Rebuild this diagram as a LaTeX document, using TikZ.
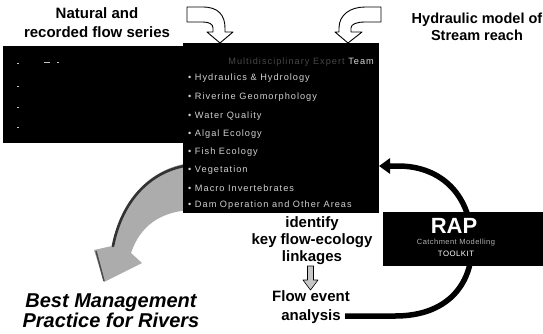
\documentclass[tikz,border=0pt]{standalone}
\usepackage{fontspec}
\setmainfont{Liberation Sans}
\usetikzlibrary{arrows.meta}
\tikzset{
  blk/.style={fill=black, draw=none, inner sep=0pt, outer sep=0pt, anchor=north west},
  hollow/.style={fill=white, draw=black, line width=0.9pt, line join=round},
  ttl/.style={font=\fontsize{15}{19}\selectfont\bfseries, align=center, inner sep=0pt},
  itm/.style={anchor=west, text=white!82!black, inner sep=0pt,
    font=\fontsize{9.2}{10}\selectfont\addfontfeatures{LetterSpace=11}},
}
\begin{document}
\begin{tikzpicture}[x=1pt,y=-1pt]
\useasboundingbox[fill=white] (0,0) rectangle (543,333);

% grey curved arrow (behind the blocks)
\fill[gray!65] (190,163) .. controls (150,168) and (121,200) .. (112,246) -- (94,250) -- (104,282) -- (142,263) -- (131,253) .. controls (140,226) and (160,212) .. (190,210) -- cycle;
\draw[line width=2.6pt, black!80, line cap=round] (190,165) .. controls (151,170) and (122,200) .. (113,246);
\draw[line width=1.5pt, black!70] (96,251) -- (104,281);

% black blocks
\node[blk, minimum width=182pt, minimum height=97pt] (left) at (3,46) {};
\node[blk, minimum width=196pt, minimum height=170pt] (team) at (183,43) {};

% faint marks in left block
\foreach \yy in {63,86,107,127} \fill[gray!45] (17,\yy) rectangle (19,\yy+1.3);
\fill[gray!45] (44,62) rectangle (50,63.3);
\fill[gray!45] (57,62) rectangle (59,63.3);

% hollow input arrows
\draw[hollow] (187,7) -- (203,7) .. controls (218,7) and (225,15) .. (225,28) -- (225,32) -- (233,32) -- (220,43) -- (207,32) -- (213,32) -- (213,28) .. controls (213,24) and (209,22) .. (203,22) -- (187,22) -- cycle;
\draw[hollow] (381,7) -- (365,7) .. controls (350,7) and (339,15) .. (339,28) -- (339,32) -- (335,32) -- (348,43) -- (362,32) -- (351,32) -- (351,28) .. controls (351,24) and (357,22) .. (365,22) -- (381,22) -- cycle;

% titles
\node[ttl] (nat) at (97,23) {Natural and\\recorded flow series};
\node[ttl, font=\fontsize{14.5}{17}\selectfont\bfseries] (hyd) at (477,27) {Hydraulic model of\\Stream reach};

% team header and list
\node[itm, anchor=east, text=white!28!black] (hdr) at (374,62) {Multidisciplinary Expert \textcolor{white!85!black}{Team}};
\node[itm] (i1) at (188,78) {• Hydraulics \& Hydrology};
\node[itm] (i2) at (188,97) {• Riverine Geomorphology};
\node[itm] (i3) at (188,116) {• Water Quality};
\node[itm] (i4) at (188,134) {• Algal Ecology};
\node[itm] (i5) at (188,152) {• Fish Ecology};
\node[itm] (i6) at (188,170) {• Vegetation};
\node[itm] (i7) at (188,188) {• Macro Invertebrates};
\node[itm] (i8) at (188,205) {• Dam Operation and Other Areas};

% identify / flow event
\node[ttl, font=\fontsize{15}{17}\selectfont\bfseries] (ident) at (312,241) {identify\\key flow-ecology\\linkages};
\node[ttl] (flow) at (311,307) {Flow event\\analysis};
\draw[fill=gray!45, line width=0.6pt, line join=round] (307.5,266) -- (313.5,266) -- (313.5,280) -- (318,280) -- (310.5,290) -- (303,280) -- (307.5,280) -- cycle;

% black return arrow
\coordinate (cstart) at (345,316);
\coordinate (cend) at (team.east |- 0,166);
\draw[line width=5.5pt, -{Triangle[length=11pt,width=15pt]}] (cstart) -- (395,316) .. controls (447,316) and (472,285) .. (472,245) .. controls (472,196) and (442,166) .. (398,166) -- (cend);

% RAP box
\node[blk, minimum width=160pt, minimum height=54pt] (rap) at (383,212) {};
\node[text=white, font=\fontsize{22}{24}\selectfont\bfseries, inner sep=0pt] (raplbl) at (454,226) {RAP};
\node[text=gray!60, font=\fontsize{7.5}{8}\selectfont\addfontfeatures{LetterSpace=6}, inner sep=0pt] (cat) at (456,243) {Catchment Modelling};
\node[text=white, font=\fontsize{7.8}{8}\selectfont\addfontfeatures{LetterSpace=6}, inner sep=0pt] (tk) at (456,254) {TOOLKIT};

% best management
\node[ttl, font=\fontsize{20}{20}\selectfont\bfseries\itshape] (bmp) at (111,311) {Best Management\\Practice for Rivers};
\end{tikzpicture}
\end{document}
